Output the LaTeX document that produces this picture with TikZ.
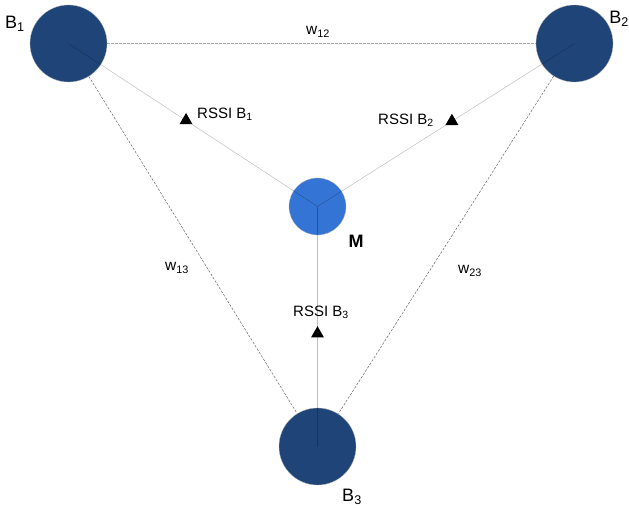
\documentclass[tikz,border=0pt]{standalone}
\usepackage{fontspec}
\setmainfont{Liberation Sans}
\usetikzlibrary{shapes.geometric}
\definecolor{beacon}{RGB}{31,69,120}
\definecolor{mobile}{RGB}{52,116,212}

\begin{document}
\begin{tikzpicture}[x=1pt,y=-1pt,
    beaconnode/.style={circle,fill=beacon,draw=gray!60,line width=0.3pt,minimum size=77pt,inner sep=0pt},
    mobilenode/.style={circle,fill=mobile,draw=gray!60,line width=0.3pt,minimum size=57pt,inner sep=0pt},
    weightline/.style={gray!80!black,line width=0.5pt,dash pattern=on 2.5pt off 1.5pt},
    rssiline/.style={black,opacity=0.25,line width=0.5pt},
    tri/.style={regular polygon,regular polygon sides=3,fill=black,minimum size=15pt,inner sep=0pt},
    lbl/.style={font=\fontsize{15}{18}\selectfont,inner sep=1pt}]
    \useasboundingbox (0,0) rectangle (629,508);
    % beacons and mobile
    \node[beaconnode] (b1) at (68.5,43.5) {};
    \node[beaconnode] (b2) at (574.5,43.5) {};
    \node[beaconnode] (b3) at (317.5,446.5) {};
    \node[mobilenode] (m) at (317.5,206.5) {};
    % distances between beacons
    \draw[weightline,gray!70] (b1) -- (b2);
    \draw[weightline] (b1) -- (b3);
    \draw[weightline] (b2) -- (b3);
    % rssi lines
    \draw[rssiline] (b1.center) -- (m.center);
    \draw[rssiline] (b2.center) -- (m.center);
    \draw[rssiline] (b3.center) -- (m.center);
    \path (b1.center) -- (m.center) node[tri,pos=0.472] (t1) {};
    \path (b2.center) -- (m.center) node[tri,pos=0.477] (t2) {};
    \path (b3.center) -- (m.center) node[tri,pos=0.47] (t3) {};
    % labels
    \node[lbl,font=\fontsize{18}{21}\selectfont] (lb1) at (15,24) {B\textsubscript{1}};
    \node[lbl,font=\fontsize{18}{21}\selectfont] (lb2) at (619,19) {B\textsubscript{2}};
    \node[lbl,font=\fontsize{18}{21}\selectfont] (lb3) at (352,497) {B\textsubscript{3}};
    \node[lbl,font=\fontsize{18}{21}\selectfont\bfseries] (lm) at (356,241) {M};
    \node[lbl,font=\fontsize{15.5}{18}\selectfont] (lw12) at (318,32) {w\textsubscript{12}};
    \node[lbl,font=\fontsize{15.5}{18}\selectfont] (lw13) at (177,268) {w\textsubscript{13}};
    \node[lbl,font=\fontsize{15.5}{18}\selectfont] (lw23) at (470,271) {w\textsubscript{23}};
    \node[lbl] (lr1) at (225,114) {RSSI B\textsubscript{1}};
    \node[lbl] (lr2) at (406,120) {RSSI B\textsubscript{2}};
    \node[lbl] (lr3) at (321,312) {RSSI B\textsubscript{3}};
\end{tikzpicture}
\end{document}
